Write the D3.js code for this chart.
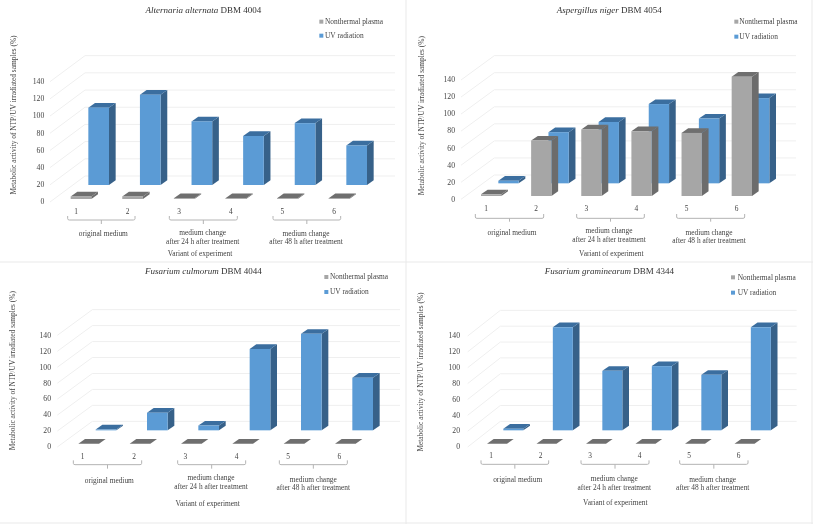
<!DOCTYPE html>
<html><head><meta charset="utf-8">
<script src="https://cdn.jsdelivr.net/npm/d3@7"></script>
<style>
html,body{margin:0;padding:0;background:#fff}
svg{display:block;filter:blur(0.35px)}
text{font-family:"Liberation Serif",serif}
</style></head><body><svg id="c" width="813" height="524"></svg>
<script>
// ---------- data ----------
const categories = ["1","2","3","4","5","6"];
const ticks = [0,20,40,60,80,100,120,140];
const seriesNames = ["Nonthermal plasma","UV radiation"];
const groups = [["original medium"],["medium change","after 24 h after treatment"],["medium change","after 48 h after treatment"]];
const alternariaPlasma = [3,3,1,1,1,1];
const alternariaUV = [90,105,74,57,72,46];
const aspergillusPlasma = [2,65,78,76,74,140];
const aspergillusUV = [3,60,72,93,76,100];
const culmorumPlasma = [0,0,0,0,0,0];
const culmorumUV = [1,22,6,102,121,66];
const graminearumPlasma = [0,0,0,0,0,0];
const graminearumUV = [2,130,75,81,70,130];
const titles = [["Alternaria alternata"," DBM 4004"],["Aspergillus niger"," DBM 4054"],["Fusarium culmorum"," DBM 4044"],["Fusarium graminearum"," DBM 4344"]];
const xTitle = "Variant of experiment";
const yTitle = "Metabolic activity of NTP/UV irradiated samples (%)";

// ---------- layout, in 3x units local to each panel ----------
const layouts = [
 {ox:0,oy:0,fx:150,bx:255,right:1185,y0:606,y140:245,back0:528,gx:212,bluex:265,step:154.8,w:62,gb:597,bb:555,tx:610,ty:30,lx:958,ly:[65,107],ltx:975,tickR:133,catx:228,caty:636,br:[[203,405],[508,712],[819,1022]],brY:[648,660,672],gt:[[310,[702]],[608,[698,724]],[918,[700,726]]],xt:[600,762],yt:[40,345]},
 {ox:406,oy:0,fx:165,bx:265,right:1170,y0:598,y140:240,back0:525,gx:225,bluex:277,step:150.4,w:61,gb:588,bb:550,tx:610,ty:30,lx:985,ly:[65,110],ltx:1000,tickR:147,catx:240,caty:627,br:[[208,413],[512,715],[812,1016]],brY:[642,655,665],gt:[[318,[698]],[609,[693,719]],[909,[697,723]]],xt:[616,760],yt:[47,347]},
 {ox:0,oy:262,fx:172,bx:277,right:1200,y0:555,y140:220,back0:478,gx:235,bluex:287,step:154,w:62,gb:545,bb:505,tx:610,ty:27,lx:973,ly:[45,90],ltx:990,tickR:153,catx:248,caty:583,br:[[220,425],[533,737],[838,1042]],brY:[595,608,620],gt:[[328,[657]],[633,[648,674]],[940,[652,677]]],xt:[623,725],yt:[38,326]},
 {ox:406,oy:262,fx:185,bx:283,right:1172,y0:555,y140:222,back0:478,gx:243,bluex:292,step:148.5,w:60,gb:545,bb:505,tx:610,ty:27,lx:975,ly:[46,92],ltx:995,tickR:162,catx:255,caty:582,br:[[225,428],[525,729],[821,1026]],brY:[595,607,620],gt:[[335,[653]],[625,[651,676]],[920,[653,678]]],xt:[628,722],yt:[45,330]}
];
const plasma = [alternariaPlasma,aspergillusPlasma,culmorumPlasma,graminearumPlasma];
const uv = [alternariaUV,aspergillusUV,culmorumUV,graminearumUV];
const colors = {plasma:{front:"#a6a6a6",top:"#6f6f6f",side:"#6c6c6c"},uv:{front:"#5b9bd5",top:"#3b6e9f",side:"#376189"}};
const gridColor = "#efefef", textColor = "#444";
const FS = 7.4;

const svg = d3.select("#c");
const path = d3.line();
layouts.forEach((L,pi)=>{
  const g = svg.append("g").attr("transform",`translate(${L.ox},${L.oy}) scale(${1/3})`);
  const fs = FS*3;
  const tickY = d3.scaleLinear().domain([0,140]).range([L.y0,L.y140]);
  const backY = d3.scaleLinear().domain([0,140]).range([L.back0,L.back0-(L.y0-L.y140)]);
  const heightS = d3.scaleLinear().domain([0,140]).range([0,L.y0-L.y140]);
  const x = d3.scaleBand().domain(categories).range([0,L.step*6]).paddingInner(0).paddingOuter(0);

  // walls
  ticks.forEach(t=>{
    g.append("path").attr("d",path([[L.fx,tickY(t)],[L.bx,backY(t)],[L.right,backY(t)]]))
     .attr("fill","none").attr("stroke",gridColor).attr("stroke-width",3);
  });
  // axis labels
  g.selectAll(".tk").data(ticks).enter().append("text")
    .attr("x",L.tickR).attr("y",d=>tickY(d)+7).attr("text-anchor","end")
    .attr("font-size",fs+1).attr("fill",textColor).text(d=>d);

  // bars: back row first
  const dxT = 20, dyT = 14;
  function bars(values,x0,base,c){
    categories.forEach((cat,i)=>{
      const v = values[i], X = x0 + x(cat), H = heightS(v), T = base-H, W = L.w;
      g.append("path").attr("d",path([[X+W,T],[X+W+dxT,T-dyT],[X+W+dxT,base-dyT],[X+W,base]])+"Z").attr("fill",c.side);
      g.append("path").attr("d",path([[X,T],[X+dxT,T-dyT],[X+W+dxT,T-dyT],[X+W,T]])+"Z").attr("fill",c.top);
      if(H>0) g.append("rect").attr("x",X).attr("y",T).attr("width",W).attr("height",H).attr("fill",c.front);
    });
  }
  bars(uv[pi],L.bluex,L.bb,colors.uv);
  bars(plasma[pi],L.gx,L.gb,colors.plasma);

  // category labels
  g.selectAll(".ct").data(categories).enter().append("text")
    .attr("x",d=>L.catx+x(d)).attr("y",L.caty+7).attr("text-anchor","middle")
    .attr("font-size",fs).attr("fill",textColor).text(d=>d);

  // brackets
  L.br.forEach(([a,b])=>{
    const [t,m,e] = L.brY, c=(a+b)/2;
    g.append("path").attr("d",`M${a},${t}V${m-4}Q${a},${m} ${a+5},${m}H${b-5}Q${b},${m} ${b},${m-4}V${t}M${c},${m}V${e}`)
     .attr("fill","none").attr("stroke","#b4b4b4").attr("stroke-width",3);
  });
  // group labels
  L.gt.forEach(([cx,ys],i)=>{
    groups[i].forEach((s,j)=>{
      g.append("text").attr("x",cx).attr("y",ys[j]+7).attr("text-anchor","middle")
       .attr("font-size",fs).attr("fill",textColor).text(s);
    });
  });
  // axis titles
  g.append("text").attr("x",L.xt[0]).attr("y",L.xt[1]+7).attr("text-anchor","middle")
    .attr("font-size",fs).attr("fill",textColor).text(xTitle);
  g.append("text").attr("transform",`translate(${L.yt[0]+7},${L.yt[1]}) rotate(-90)`).attr("text-anchor","middle")
    .attr("font-size",fs).attr("fill",textColor).text(yTitle);
  // title
  const tt = g.append("text").attr("x",L.tx).attr("y",L.ty+8).attr("text-anchor","middle")
    .attr("font-size",9*3).attr("fill","#333");
  tt.append("tspan").attr("font-style","italic").text(titles[pi][0]);
  tt.append("tspan").text(titles[pi][1]);
  // legend
  seriesNames.forEach((s,i)=>{
    const c = i===0?colors.plasma.front:colors.uv.front;
    g.append("rect").attr("x",L.lx).attr("y",L.ly[i]-6).attr("width",12).attr("height",12).attr("fill",c);
    g.append("text").attr("x",L.ltx).attr("y",L.ly[i]+7).attr("font-size",fs).attr("fill",textColor).text(s);
  });
});
// panel separators
[[406,0,406,524],[0,262,813,262],[0,523,813,523],[812,0,812,524]].forEach(d=>{
  svg.append("line").attr("x1",d[0]).attr("y1",d[1]).attr("x2",d[2]).attr("y2",d[3]).attr("stroke","#e9e9e9").attr("stroke-width",1);
});
</script></body></html>
